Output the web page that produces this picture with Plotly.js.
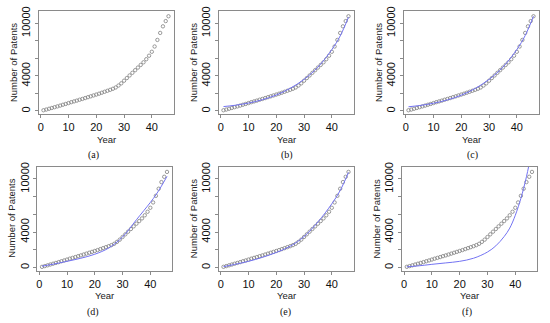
<!DOCTYPE html>
<html><head><meta charset="utf-8">
<script src="https://cdn.plot.ly/plotly-3.0.1.min.js"></script>
<style>html,body{margin:0;padding:0;background:#fff}#chart{width:550px;height:323px}</style>
</head><body><div id="chart"></div>
<script>
// ---- data ----
const years = [1,2,3,4,5,6,7,8,9,10,11,12,13,14,15,16,17,18,19,20,21,22,23,24,25,26,27,28,29,30,31,32,33,34,35,36,37,38,39,40,41,42,43,44,45,46];
const patents = [80,160,250,340,430,520,610,710,800,900,1000,1090,1180,1280,1370,1470,1570,1670,1770,1870,1970,2080,2190,2300,2410,2530,2680,2900,3150,3450,3750,4050,4350,4650,4950,5250,5550,5900,6300,6750,7350,8100,8900,9650,10250,10800];
const fitYearsB = [1,5,10,15,20,25,30,35,40,43,46];
const fitB = [500,640,900,1280,1820,2580,3600,5000,7000,8550,10700];
const fitYearsC = [1,5,10,15,20,25,30,35,40,43,46];
const fitC = [480,620,880,1260,1800,2560,3600,5000,7000,8600,10800];
const fitYearsD = [1,5,10,15,20,25,30,35,40,42,44,46];
const fitD = [150,380,700,1050,1500,2200,3450,5400,7350,8200,9200,10300];
const fitYearsE = [1,5,10,15,20,25,30,35,40,43,46];
const fitE = [100,350,700,1150,1700,2400,3500,5150,7200,8700,10750];
const fitYearsF = [1,5,10,15,20,25,30,33,36,38,40,42,43,44,45];
const fitF = [80,180,360,520,700,1050,1750,2450,3500,4450,5900,7800,8950,10250,11700];
const panelLabels = ['(a)','(b)','(c)','(d)','(e)','(f)'];
const xTicks = [0,10,20,30,40];
const yTicks = [0,2000,4000,6000,8000,10000];
const yTickText = ['0','','4000','','','10000'];
const xTitle = 'Year';
const yTitle = 'Number of Patents';

// ---- layout geometry (pixels) ----
const W = 550, H = 323;
const boxes = [ // [left,right,top,bottom]
  [38.5,173.5,11.0,114.2],
  [218.5,353.5,11.0,114.2],
  [403.5,538.5,11.0,114.2],
  [37.0,172.0,166.6,270.8],
  [218.5,353.5,166.6,270.8],
  [401.8,537.0,166.6,270.8]
];
const labelX = [93,287,472,93,285,467];
const fits = [null,[fitYearsB,fitB],[fitYearsC,fitC],[fitYearsD,fitD],[fitYearsE,fitE],[fitYearsF,fitF]];

const traces = [];
const layout = {
  width: W, height: H, margin:{l:0,r:0,t:0,b:0}, showlegend:false,
  paper_bgcolor:'#fff', plot_bgcolor:'#fff',
  font:{family:'Liberation Sans, Arial, sans-serif', color:'#111'},
  annotations: [], shapes: []
};
const axisColor = '#8a8a8a';
boxes.forEach((b,i)=>{
  const n = i===0 ? '' : String(i+1);
  const xa = 'x'+n, ya = 'y'+n;
  traces.push({x:years, y:patents, xaxis:xa, yaxis:ya, type:'scatter', mode:'markers',
    marker:{symbol:'circle-open', size:3.4, color:'#808080', line:{width:0.8, color:'#808080'}},
    cliponaxis:true, hoverinfo:'skip'});
  if (fits[i]) {
    traces.push({x:fits[i][0], y:fits[i][1], xaxis:xa, yaxis:ya, type:'scatter', mode:'lines',
      line:{color:'#7373f2', width:1, shape:'spline', smoothing:1}, hoverinfo:'skip'});
  }
  layout['xaxis'+n] = {
    domain:[b[0]/W, b[1]/W], anchor:ya, range:[-0.8,47.8], fixedrange:true,
    showgrid:false, zeroline:false, showline:true, mirror:true, linecolor:axisColor, linewidth:1,
    ticks:'outside', ticklen:3, tickcolor:axisColor, tickwidth:1,
    tickvals:xTicks, ticktext:xTicks.map(String), tickfont:{size:11, color:'#111'}
  };
  layout['yaxis'+n] = {
    domain:[1-b[3]/H, 1-b[2]/H], anchor:xa, range:[-370,11400], fixedrange:true,
    showgrid:false, zeroline:false, showline:true, mirror:true, linecolor:axisColor, linewidth:1,
    ticks:'outside', ticklen:3, tickcolor:axisColor, tickwidth:1,
    tickvals:yTicks, ticktext:yTickText, tickangle:-90, tickfont:{size:11, color:'#111'}
  };
  const cx = (b[0]+b[1])/2;
  layout.annotations.push({xref:'paper', yref:'paper', x:cx/W, y:1-(b[3]+25)/H,
    text:xTitle, showarrow:false, xanchor:'center', yanchor:'middle',
    font:{size:9.5, color:'#222', family:'Liberation Sans, Arial, sans-serif'}});
  layout.annotations.push({xref:'paper', yref:'paper', x:(b[0]-25)/W, y:1-((b[2]+b[3])/2)/H,
    text:yTitle, showarrow:false, textangle:-90, xanchor:'center', yanchor:'middle',
    font:{size:9.5, color:'#222', family:'Liberation Sans, Arial, sans-serif'}});
  layout.annotations.push({xref:'paper', yref:'paper', x:labelX[i]/W, y:1-(b[3]+41)/H,
    text:panelLabels[i], showarrow:false, xanchor:'center', yanchor:'middle',
    font:{size:10, color:'#111', family:'Liberation Serif, Times New Roman, serif'}});
});
Plotly.newPlot('chart', traces, layout, {staticPlot:true, displayModeBar:false});
</script></body></html>
